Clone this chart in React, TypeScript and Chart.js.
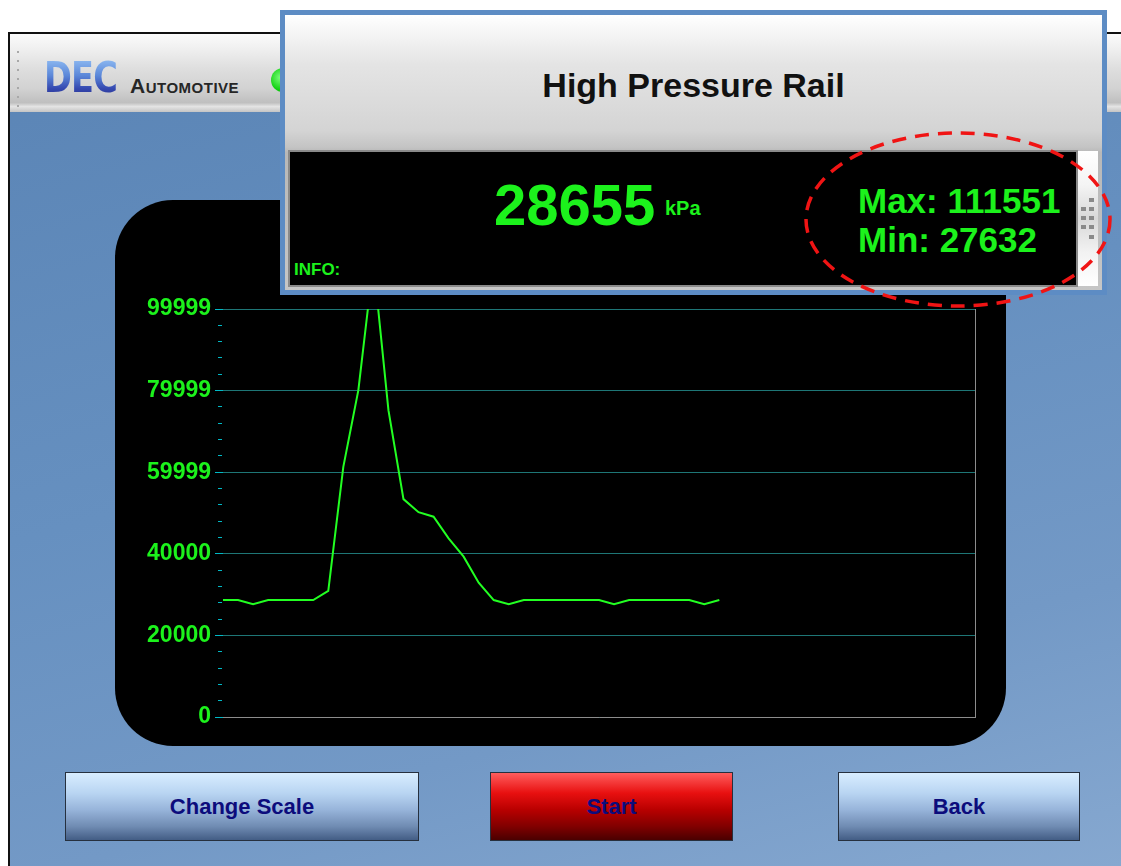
import React, { useEffect, useRef } from 'react';
import { Chart, registerables } from 'chart.js';

Chart.register(...registerables);

// ---- data ----
const sampleLabels = [
  '0', '1', '2', '3', '4', '5', '6', '7', '8', '9',
  '10', '11', '12', '13', '14', '15', '16', '17', '18', '19',
  '20', '21', '22', '23', '24', '25', '26', '27', '28', '29',
  '30', '31', '32', '33', '34', '35', '36', '37', '38', '39',
  '40', '41', '42', '43', '44', '45', '46', '47', '48', '49', '50',
];

const railPressureKPa = [
  28655, 28655, 27632, 28655, 28655, 28655, 28655, 30900, 61300, 80100,
  111551, 75200, 53400, 50200, 49100, 43800, 39300, 32900, 28655, 27632,
  28655, 28655, 28655, 28655, 28655, 28655, 27632, 28655, 28655, 28655,
  28655, 28655, 27632, 28655,
];

const yMajorTickLabels = ['0', '20000', '40000', '59999', '79999', '99999'];
const yAxisMax = 99999;
const minorPerMajor = 5;

const titleText = 'High Pressure Rail';
const currentValue = '28655';
const unitLabel = 'kPa';
const maxLabel = 'Max: 111551';
const minLabel = 'Min: 27632';
const infoLabel = 'INFO:';
const buttonLabels = ['Change Scale', 'Start', 'Back'];

// ---- styles ----
const FONT = '"Liberation Sans", Arial, Helvetica, sans-serif';
const GREEN = '#1cf21c';
const LINE_GREEN = '#22ff22';
const GRID_TEAL = '#1e7676';
const TICK_CYAN = '#00b9c6';
const BORDER_GRAY = '#8c8c8c';

function RailChart() {
  const ref = useRef<HTMLCanvasElement | null>(null);
  useEffect(() => {
    if (!ref.current) return;
    const majorCount = yMajorTickLabels.length - 1;
    const totalTicks = majorCount * minorPerMajor;
    const tickValues: number[] = [];
    for (let i = 0; i <= totalTicks; i++) tickValues.push((i * yAxisMax) / totalTicks);

    const chart = new Chart(ref.current, {
      type: 'line',
      data: {
        labels: sampleLabels,
        datasets: [
          {
            data: railPressureKPa,
            borderColor: LINE_GREEN,
            backgroundColor: LINE_GREEN,
            borderWidth: 2,
            pointRadius: 0,
            tension: 0,
            fill: false,
            clip: 0,
          },
        ],
      },
      options: {
        animation: false,
        responsive: false,
        events: [],
        layout: { padding: { top: 29, right: 15, bottom: 23, left: 0 } },
        plugins: {
          legend: { display: false },
          tooltip: { enabled: false },
          title: { display: false },
        },
        scales: {
          x: {
            type: 'category',
            display: true,
            offset: false,
            grid: { display: false, drawTicks: false },
            ticks: { display: false },
            border: { display: true, color: BORDER_GRAY, width: 1 },
            afterFit: (s: any) => {
              s.height = 0;
            },
          },
          y: {
            type: 'linear',
            position: 'left',
            min: 0,
            max: yAxisMax,
            afterBuildTicks: (s: any) => {
              s.ticks = tickValues.map((v) => ({ value: v }));
            },
            ticks: {
              autoSkip: false,
              padding: 4,
              color: GREEN,
              font: { family: FONT, size: 23, weight: 'bold' },
              callback: (_v: any, i: number) =>
                i % minorPerMajor === 0 ? yMajorTickLabels[i / minorPerMajor] : '',
            },
            grid: {
              color: (c: any) => (c.index % minorPerMajor === 0 ? GRID_TEAL : 'rgba(0,0,0,0)'),
              tickColor: TICK_CYAN,
              tickLength: 8,
              lineWidth: 1,
              tickWidth: 1,
              tickBorderDash: (c: any) => (c.index % minorPerMajor === 0 ? [] : [4, 50]),
              tickBorderDashOffset: (c: any) => (c.index % minorPerMajor === 0 ? 0 : 51),
            },
            border: { display: false },
            afterFit: (s: any) => {
              s.width = 103;
            },
          },
          y2: {
            type: 'linear',
            position: 'right',
            display: true,
            min: 0,
            max: 1,
            grid: { display: false, drawTicks: false },
            ticks: { display: false },
            border: { display: true, color: BORDER_GRAY, width: 1 },
            afterFit: (s: any) => {
              s.width = 0;
            },
          },
        },
      } as any,
    });
    return () => chart.destroy();
  }, []);
  return (
    <canvas
      ref={ref}
      width={870}
      height={460}
      style={{ position: 'absolute', left: 120, top: 280, width: 870, height: 460 }}
    />
  );
}

const abs = (o: React.CSSProperties): React.CSSProperties => ({ position: 'absolute', ...o });

function Button({ label, left, width, red }: { label: string; left: number; width: number; red?: boolean }) {
  const bg = red
    ? 'linear-gradient(180deg, #ff5d5d 0%, #e81010 30%, #b80000 55%, #800000 80%, #4a0000 100%)'
    : 'linear-gradient(180deg, #d8edff 0%, #b9d5f2 30%, #97b4da 55%, #6f8bb2 80%, #435d85 100%)';
  return (
    <div
      style={abs({
        left,
        top: 772,
        width,
        height: 69,
        boxSizing: 'border-box',
        border: '1px solid #26303e',
        background: bg,
        display: 'flex',
        alignItems: 'center',
        justifyContent: 'center',
        fontFamily: FONT,
        fontWeight: 'bold',
        fontSize: 22,
        color: '#0c0c7c',
      })}
    >
      {label}
    </div>
  );
}

export default function App() {
  const dots = [51, 60, 69, 78, 87, 96, 105];
  const grip = [
    [1089, 198], [1081, 207], [1089, 207], [1081, 216], [1089, 216], [1081, 225], [1089, 225], [1089, 235],
  ];
  return (
    <div
      style={abs({
        left: 0,
        top: 0,
        width: 1121,
        height: 866,
        overflow: 'hidden',
        background: '#ffffff',
        fontFamily: FONT,
      })}
    >
      {/* application window */}
      <div
        style={abs({
          left: 8,
          top: 32,
          width: 1113,
          height: 834,
          boxSizing: 'border-box',
          borderTop: '2px solid #111',
          borderLeft: '2px solid #111',
          background: 'linear-gradient(165deg, #5a84b5 0%, #6690c0 45%, #7399c6 75%, #86a8d0 100%)',
        })}
      />
      {/* header bar */}
      <div
        style={abs({
          left: 10,
          top: 34,
          width: 1111,
          height: 78,
          background:
            'linear-gradient(180deg, #fbfbfb 0%, #f0f0f0 18%, #dedede 45%, #d2d2d2 70%, #bfbfbf 88%, #e4e4e4 93%, #c4c4c4 100%)',
        })}
      />
      {dots.map((y) => (
        <div key={y} style={abs({ left: 17, top: y, width: 2, height: 2, background: '#a8a8a8' })} />
      ))}
      {/* logo */}
      <div
        style={abs({
          left: 44,
          top: 57,
          fontSize: 42,
          lineHeight: '42px',
          fontWeight: 'bold',
          fontFamily: '"DejaVu Sans", Verdana, sans-serif',
          letterSpacing: -1,
          transform: 'scaleX(0.8)',
          transformOrigin: 'left top',
          background: 'linear-gradient(180deg, #94c0f4 0%, #5a86d8 45%, #3549b0 75%, #28308a 100%)',
          WebkitBackgroundClip: 'text',
          backgroundClip: 'text',
          color: 'transparent',
        })}
      >
        DEC
      </div>
      <div
        style={abs({
          left: 130,
          top: 75,
          fontSize: 21,
          lineHeight: '21px',
          fontWeight: 'bold',
          fontVariant: 'small-caps',
          letterSpacing: 0.5,
          color: '#262626',
        })}
      >
        Automotive
      </div>
      <div
        style={abs({
          left: 271,
          top: 68,
          width: 24,
          height: 24,
          borderRadius: 12,
          background: 'radial-gradient(circle at 40% 40%, #7dff7d, #10d010 60%, #0a8a0a)',
        })}
      />

      {/* chart panel */}
      <div
        style={abs({
          left: 115,
          top: 200,
          width: 891,
          height: 546,
          background: '#000',
          borderRadius: 58,
        })}
      />
      <RailChart />

      {/* popup */}
      <div style={abs({ left: 280, top: 10, width: 827, height: 285, background: '#5d8cc4' })} />
      <div
        style={abs({
          left: 285,
          top: 15,
          width: 817,
          height: 275,
          background:
            'linear-gradient(180deg, #ffffff 0%, #f6f6f6 6%, #e4e4e4 18%, #d9d9d9 35%, #d4d4d4 42%, #c4c4c4 48%, #b8b8b8 50%, #c6c6c6 100%)',
        })}
      />
      <div
        style={abs({
          left: 285,
          top: 68,
          width: 817,
          textAlign: 'center',
          fontSize: 34,
          lineHeight: '34px',
          fontWeight: 'bold',
          color: '#111',
        })}
      >
        {titleText}
      </div>
      <div
        style={abs({
          left: 288,
          top: 150,
          width: 790,
          height: 137,
          boxSizing: 'border-box',
          border: '2px solid #8a8a8a',
          background: '#000',
        })}
      />
      <div
        style={abs({
          left: 1078,
          top: 151,
          width: 20,
          height: 135,
          background: 'linear-gradient(180deg, #ffffff 0%, #f4f4f4 25%, #d8d8d8 50%, #f2f2f2 75%, #ffffff 100%)',
        })}
      />
      {grip.map(([x, y], i) => (
        <div key={i} style={abs({ left: x, top: y, width: 5, height: 4, background: '#8a8a8a' })} />
      ))}
      <div
        style={abs({
          left: 494,
          top: 176,
          fontSize: 58,
          lineHeight: '58px',
          fontWeight: 'bold',
          color: GREEN,
        })}
      >
        {currentValue}
      </div>
      <div
        style={abs({ left: 665, top: 198, fontSize: 20, lineHeight: '20px', fontWeight: 'bold', color: GREEN })}
      >
        {unitLabel}
      </div>
      <div
        style={abs({ left: 858, top: 183, fontSize: 35, lineHeight: '35px', fontWeight: 'bold', color: GREEN })}
      >
        {maxLabel}
      </div>
      <div
        style={abs({ left: 858, top: 222, fontSize: 35, lineHeight: '35px', fontWeight: 'bold', color: GREEN })}
      >
        {minLabel}
      </div>
      <div
        style={abs({ left: 294, top: 261, fontSize: 17, lineHeight: '17px', fontWeight: 'bold', color: GREEN })}
      >
        {infoLabel}
      </div>

      {/* buttons */}
      <Button label={buttonLabels[0]} left={65} width={354} />
      <Button label={buttonLabels[1]} left={490} width={243} red />
      <Button label={buttonLabels[2]} left={838} width={242} />

      {/* red dashed highlight */}
      <svg width={1121} height={866} style={abs({ left: 0, top: 0, pointerEvents: 'none' })}>
        <ellipse
          cx={958}
          cy={219.5}
          rx={152}
          ry={86.5}
          fill="none"
          stroke="#f01414"
          strokeWidth={3.5}
          strokeDasharray="14 9"
        />
      </svg>
    </div>
  );
}
